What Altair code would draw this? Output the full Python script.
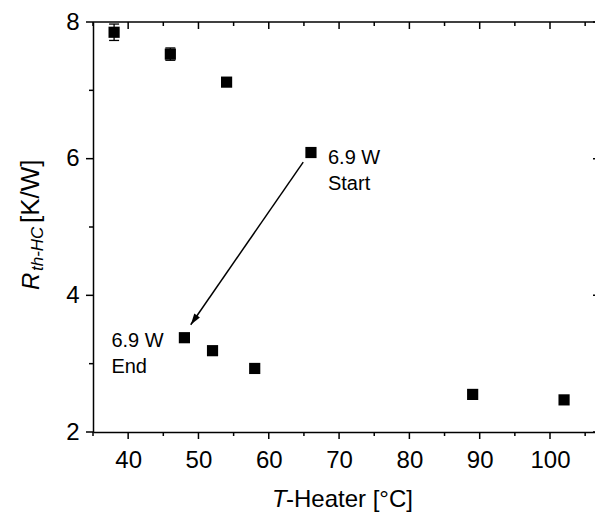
import math
import altair as alt
import pandas as pd

# ---------------- data ----------------
T_heater = [38, 46, 54, 66, 48, 52, 58, 89, 102]
R_th = [7.85, 7.53, 7.12, 6.09, 3.38, 3.19, 2.93, 2.55, 2.47]
R_err = [0.12, 0.09, 0.0, 0.0, 0.0, 0.0, 0.0, 0.0, 0.0]

x_major = [40, 50, 60, 70, 80, 90, 100]
x_minor = [35, 45, 55, 65, 75, 85, 95, 105]
y_major = [2, 4, 6, 8]
y_minor = [3, 5, 7]

arrow_T = [64.9, 48.9]
arrow_R = [5.95, 3.57]

start_label = "6.9 W\nStart"
end_label = "6.9 W\nEnd"
x_title_italic = "T"
x_title_rest = "-Heater [°C]"
y_title_italic = "R"
y_title_sub = "th-HC"
y_title_rest = "[K/W]"

# ---------------- layout ----------------
X_DOMAIN = [35, 106.4]
Y_DOMAIN = [2, 8]
W, H = 502, 410
FONT = "Liberation Sans"
LW = 1.5

xs = alt.Scale(domain=X_DOMAIN, nice=False, zero=False)
ys = alt.Scale(domain=Y_DOMAIN, nice=False, zero=False)

x_axis = alt.Axis(values=x_major, ticks=False, domain=True, domainColor="black",
                  domainWidth=LW, grid=False, labelPadding=16, title=None,
                  labelFontSize=24, labelFont=FONT, labelColor="black")
y_axis = alt.Axis(values=y_major, ticks=False, domain=True, domainColor="black",
                  domainWidth=LW, grid=False, labelPadding=14, title=None,
                  labelFontSize=24, labelFont=FONT, labelColor="black")


def X(field):
    return alt.X(field, scale=xs, axis=x_axis, title=None)


def Y(field):
    return alt.Y(field, scale=ys, axis=y_axis, title=None)


pts = pd.DataFrame({"T": T_heater, "R": R_th, "err": R_err})
pts["lo"] = pts["R"] - pts["err"]
pts["hi"] = pts["R"] + pts["err"]
err = pts[pts["err"] > 0]
caps = pd.concat([err[["T"]].assign(v=err["lo"]), err[["T"]].assign(v=err["hi"])])
one = pd.DataFrame({"a": [0]})

points = alt.Chart(pts).mark_square(size=125, color="black", opacity=1).encode(
    x=X("T:Q"), y=Y("R:Q"))

stems = alt.Chart(err).mark_rule(color="black", strokeWidth=1.3).encode(
    x=X("T:Q"), y=Y("lo:Q"), y2="hi:Q")
cap_marks = alt.Chart(caps).mark_tick(orient="horizontal", size=10, thickness=1.3,
                                      color="black", opacity=1).encode(
    x=X("T:Q"), y=Y("v:Q"))


# ticks drawn as rules (bottom/left outward, top/right inward)
def xticks(vals, y0, y1):
    return alt.Chart(pd.DataFrame({"v": vals})).mark_rule(color="black", strokeWidth=LW).encode(
        x=X("v:Q"), y=alt.value(y0), y2=alt.value(y1))


def yticks(vals, x0, x1):
    return alt.Chart(pd.DataFrame({"v": vals})).mark_rule(color="black", strokeWidth=LW).encode(
        y=Y("v:Q"), x=alt.value(x0), x2=alt.value(x1))


tick_layers = [
    xticks(x_major, H, H + 7), xticks(x_minor, H, H + 4),
    xticks(x_major, 0, 7), xticks(x_minor, 0, 4),
    yticks(y_major, 0, -7), yticks(y_minor, 0, -4),
    yticks(y_major, W + 5, W - 2), yticks(y_minor, W + 5, W + 1),
]

top_line = alt.Chart(one).mark_rule(color="black", strokeWidth=LW).encode(
    x=alt.value(0), x2=alt.value(W + 10), y=alt.value(0))

# arrow
arrow_df = pd.DataFrame({"T": arrow_T, "R": arrow_R})
arrow_line = alt.Chart(arrow_df).mark_line(color="black", strokeWidth=LW).encode(
    x=X("T:Q"), y=Y("R:Q"))
dxs = (arrow_T[1] - arrow_T[0]) * W / (X_DOMAIN[1] - X_DOMAIN[0])
dys = -(arrow_R[1] - arrow_R[0]) * H / (Y_DOMAIN[1] - Y_DOMAIN[0])
angle = math.degrees(math.atan2(dxs, -dys)) % 360
ARROW_PATH = "M0,0 L-0.85,2.8 L0.85,2.8 Z"
arrow_head = alt.Chart(arrow_df.iloc[[1]]).mark_point(
    shape=ARROW_PATH, size=64, angle=angle, filled=True, color="black", opacity=1, strokeWidth=0
).encode(x=X("T:Q"), y=Y("R:Q"))

# annotations anchored to the data points
start_txt = alt.Chart(pts.iloc[[3]].assign(lab=start_label)).mark_text(
    align="left", baseline="top", lineBreak="\n", lineHeight=26, fontSize=20,
    dx=17, dy=-4.5, font=FONT, color="black"
).encode(x=X("T:Q"), y=Y("R:Q"), text="lab:N")
end_txt = alt.Chart(pts.iloc[[4]].assign(lab=end_label)).mark_text(
    align="left", baseline="top", lineBreak="\n", lineHeight=26, fontSize=20,
    dx=-73, dy=-6.4, font=FONT, color="black"
).encode(x=X("T:Q"), y=Y("R:Q"), text="lab:N")


# axis titles
def txt(s, x, y, size=24, style="normal", ang=0):
    kw = dict(text=s, align="left", baseline="alphabetic", fontSize=size,
              fontStyle=style, font=FONT, color="black")
    if ang:
        kw["angle"] = ang
    return alt.Chart(one).mark_text(**kw).encode(x=alt.value(x), y=alt.value(y))


titles = [
    txt(x_title_italic, 179, 485, style="italic"),
    txt(x_title_rest, 193, 485),
    txt(y_title_italic, -54, 268, style="italic", ang=270),
    txt(y_title_sub, -50, 249, size=17, style="italic", ang=270),
    txt(y_title_rest, -54, 201, size=26, ang=270),
]

chart = alt.layer(
    points, *tick_layers, top_line, stems, cap_marks, arrow_line, arrow_head,
    start_txt, end_txt, *titles
).properties(
    width=W, height=H,
    autosize=alt.AutoSizeParams(type="none"),
    padding={"left": 93, "top": 22, "right": 0, "bottom": 86},
).configure_view(stroke=None)

chart.save("out.html", embed_options={"renderer": "svg", "actions": False})
